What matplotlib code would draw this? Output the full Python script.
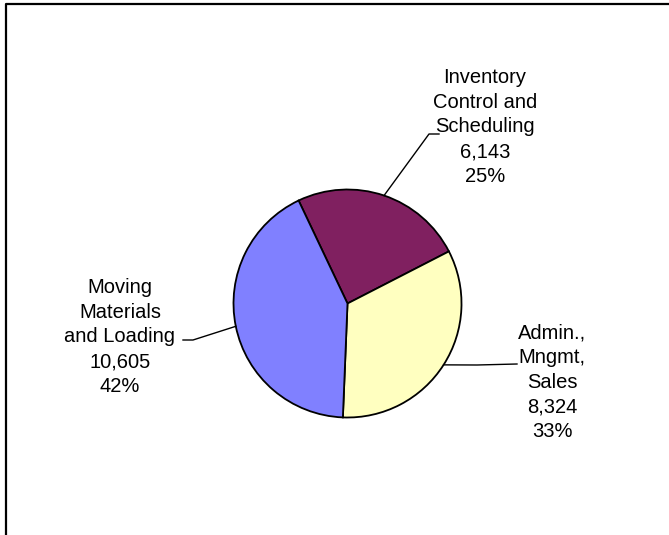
import numpy as np
import matplotlib.pyplot as plt

# labour hours by activity
activities = ['Inventory\nControl and\nScheduling', 'Admin.,\nMngmt,\nSales', 'Moving\nMaterials\nand Loading']
hours = [6143, 8324, 10605]
colors = ['#802060', '#FFFFC0', '#8080FF']

W, H = 669, 535
cx, cy, r = 347.5, H - 303.5, 114
start = 115.4

# label block centre and where the leader line meets the text (pixels from top-left)
label_pos = [(485, 127), (552, 382), (120, 337)]
elbow = [[(429, 134), (439, 134)], [(477, 365), (517, 364)], [(193, 340), (183, 340)]]

fig = plt.figure(figsize=(W / 100, H / 100), dpi=100)
ax = fig.add_axes([0, 0, 1, 1])

wedges, _ = ax.pie(hours, colors=colors, startangle=start, counterclock=False,
                   center=(cx, cy), radius=r,
                   wedgeprops=dict(edgecolor='black', linewidth=1.3))

total = sum(hours)
for w, name, v, (lx, ly), pts in zip(wedges, activities, hours, label_pos, elbow):
    mid = np.deg2rad((w.theta1 + w.theta2) / 2)
    ax_x = cx + r * np.cos(mid)
    ax_y = cy + r * np.sin(mid)
    xs = [ax_x] + [p[0] for p in pts]
    ys = [ax_y] + [H - p[1] for p in pts]
    ax.plot(xs, ys, color='black', linewidth=1.0)
    txt = f'{name}\n{v:,}\n{round(100 * v / total)}%'
    ax.text(lx, H - ly, txt, ha='center', va='center', multialignment='center',
            fontsize=14.5, family='Liberation Sans', linespacing=1.38)

# frame around the chart
ax.plot([5.5, 5.5, W], [0, H - 3.5, H - 3.5], color='black', linewidth=1.6)

ax.set_xlim(0, W)
ax.set_ylim(0, H)
ax.set_aspect('auto')
ax.axis('off')
fig.savefig('out.png', dpi=100)
